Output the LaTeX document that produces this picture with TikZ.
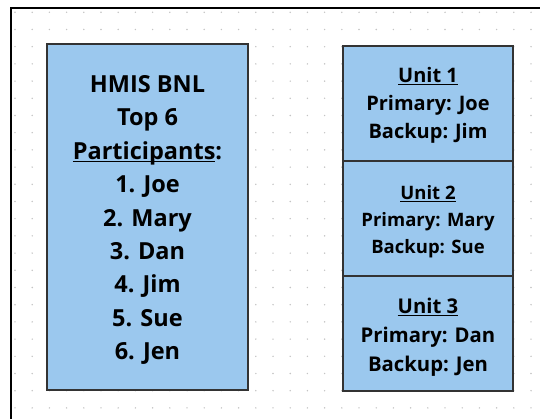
\documentclass[tikz,border=0pt]{standalone}
\usepackage{fontspec}
\setmainfont{Open Sans}
\definecolor{boxfill}{HTML}{9BC8EE}
\definecolor{boxline}{HTML}{333333}
\definecolor{dotgray}{HTML}{C4C4C4}
% underline sitting just below the baseline
\newcommand\ulin[1]{\setbox0=\hbox{#1}\rlap{\rule[-0.13em]{\wd0}{0.075em}}\box0}
\begin{document}
\begin{tikzpicture}[x=1pt,y=-1pt,
  panel/.style={draw=boxline, line width=2pt, fill=boxfill, inner sep=0pt},
  unitbox/.style={panel, minimum width=170pt, minimum height=115pt},
  label/.style={align=center, inner sep=0pt}]
  \useasboundingbox (0,0) rectangle (540,419);
  \fill[white] (0,0) rectangle (540,419);
  % dotted canvas grid
  \foreach \i in {0,...,30}{
    \foreach \j in {0,...,23}{
      \fill[dotgray] ({15+17.2*\i},{12.3+17.2*\j}) circle (0.8pt);
    }
  }
  % canvas frame (top and left edges)
  \draw[line width=2pt, black] (10.5,419) -- (10.5,8.5) -- (540,8.5);
  % participant list
  \node[panel, minimum width=201pt, minimum height=346pt] (list) at (147.5,217) {};
  \node[label, font=\bfseries\fontsize{23.5}{33.4}\selectfont]
    (listtext) at (147.5,220)
    {HMIS BNL\\Top 6\\\ulin{Participants}:\\1. Joe\\2. Mary\\3. Dan\\4. Jim\\5. Sue\\6. Jen};
  % unit assignments
  \node[unitbox] (u1) at (428,103.5) {};
  \node[unitbox] (u2) at (428,218.5) {};
  \node[unitbox] (u3) at (428,333.5) {};
  \node[label, font=\bfseries\fontsize{20}{28}\selectfont] (u1text) at (428,105.5)
    {\ulin{Unit 1}\\Primary: Joe\\Backup: Jim};
  \node[label, font=\bfseries\fontsize{18.5}{27}\selectfont] (u2text) at (428,222)
    {\ulin{Unit 2}\\Primary: Mary\\Backup: Sue};
  \node[label, font=\bfseries\fontsize{20.3}{29}\selectfont] (u3text) at (428,337.5)
    {\ulin{Unit 3}\\Primary: Dan\\Backup: Jen};
\end{tikzpicture}
\end{document}
